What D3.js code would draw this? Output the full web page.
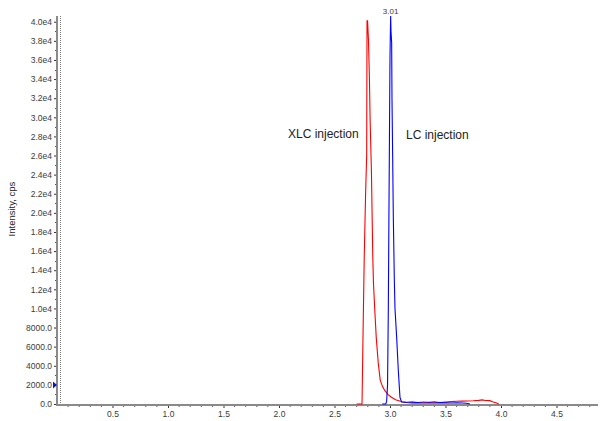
<!DOCTYPE html>
<html>
<head>
<meta charset="utf-8">
<script src="https://cdn.jsdelivr.net/npm/d3@7"></script>
<style>
  html, body { margin: 0; padding: 0; background: #fff; }
  svg { display: block; font-family: "Liberation Sans", Arial, sans-serif; }
</style>
</head>
<body>
<svg id="chart" width="600" height="421"></svg>
<script>
// ---- data ----
const xTickValues = [0.5, 1.0, 1.5, 2.0, 2.5, 3.0, 3.5, 4.0, 4.5];
const xTickLabels = ["0.5", "1.0", "1.5", "2.0", "2.5", "3.0", "3.5", "4.0", "4.5"];
const yTickValues = [0, 2000, 4000, 6000, 8000, 10000, 12000, 14000, 16000, 18000, 20000,
  22000, 24000, 26000, 28000, 30000, 32000, 34000, 36000, 38000, 40000];
const yTickLabels = ["0.0", "2000.0", "4000.0", "6000.0", "8000.0", "1.0e4", "1.2e4", "1.4e4",
  "1.6e4", "1.8e4", "2.0e4", "2.2e4", "2.4e4", "2.6e4", "2.8e4", "3.0e4", "3.2e4", "3.4e4",
  "3.6e4", "3.8e4", "4.0e4"];

// XLC injection (red)
const redTime = [2.70, 2.748, 2.754, 2.768, 2.781, 2.790, 2.793, 2.798, 2.806, 2.815, 2.821,
  2.833, 2.840, 2.845, 2.851, 2.863, 2.876, 2.894, 2.912, 2.93, 2.95, 2.98, 3.01, 3.05, 3.11,
  3.15, 3.20, 3.25, 3.30, 3.35, 3.40, 3.45, 3.50, 3.55, 3.60, 3.65, 3.70, 3.75, 3.80, 3.83,
  3.86, 3.90, 3.93, 3.96, 3.98];
const redIntensity = [0, 0, 4900, 15400, 22400, 26000, 40100, 40100, 38100, 33900, 29700,
  24200, 19000, 15400, 12700, 9800, 7000, 4300, 2500, 1900, 1470, 1000, 730, 450, 240,
  180, 230, 150, 210, 170, 220, 160, 200, 250, 280, 300, 320, 340, 380, 430,
  360, 350, 220, 100, 0];

// LC injection (blue)
const blueTime = [2.93, 2.962, 2.970, 2.978, 2.985, 2.990, 2.995, 3.000, 3.006, 3.009, 3.015,
  3.018, 3.024, 3.030, 3.039, 3.045, 3.060, 3.075, 3.090, 3.105, 3.15, 3.20, 3.25, 3.30, 3.35,
  3.40, 3.45, 3.50, 3.55, 3.60, 3.65, 3.69, 3.72];
const blueIntensity = [0, 0, 300, 2000, 10000, 19000, 27600, 36300, 40600, 39000, 37800,
  32000, 26000, 19600, 13000, 10000, 7000, 3500, 700, 200, 150, 120, 140, 110, 130,
  100, 140, 120, 110, 130, 100, 80, 0];

const peakLabel = "3.01";
const peakTime = 3.006;
const peakValue = 40600;
const thresholdValue = 2000;

// ---- layout ----
const svg = d3.select("#chart");
const x = d3.scaleLinear().domain([0, 4.874]).range([57, 598]);
const y = d3.scaleLinear().domain([0, 40600]).range([404, 16]);

const axisColor = "#8a8a8a";
const textColor = "#3a3a3a";

// y axis dotted inner line
svg.append("line")
  .attr("x1", 60.5).attr("x2", 60.5)
  .attr("y1", y(40600)).attr("y2", 404)
  .attr("stroke", "#777").attr("stroke-width", 1)
  .attr("stroke-dasharray", "1,1");

// y axis
const yAxis = d3.axisLeft(y)
  .tickValues(yTickValues)
  .tickFormat((d, i) => yTickLabels[i])
  .tickSize(3).tickPadding(2);
const gy = svg.append("g").attr("transform", "translate(57,0)").call(yAxis);
gy.select(".domain").remove();
gy.selectAll(".tick line").attr("stroke", "#333");
gy.selectAll(".tick text").attr("fill", textColor).attr("font-size", 8.5)
  .attr("font-family", "Liberation Sans, Arial, sans-serif");
// y minor ticks
svg.append("g").selectAll("line")
  .data(d3.range(1000, 40600, 2000))
  .join("line")
  .attr("x1", 55).attr("x2", 57)
  .attr("y1", d => Math.round(y(d)) + 0.5).attr("y2", d => Math.round(y(d)) + 0.5)
  .attr("stroke", "#555");

svg.append("line")
  .attr("x1", 57).attr("x2", 57)
  .attr("y1", 16).attr("y2", 406)
  .attr("stroke", axisColor).attr("stroke-width", 2);

// x axis
const xAxis = d3.axisBottom(x)
  .tickValues(xTickValues)
  .tickFormat((d, i) => xTickLabels[i])
  .tickSize(3).tickPadding(3);
const gx = svg.append("g").attr("transform", "translate(0,405)").call(xAxis);
gx.select(".domain").remove();
gx.selectAll(".tick line").attr("stroke", "#333");
gx.selectAll(".tick text").attr("fill", textColor).attr("font-size", 8.5)
  .attr("font-family", "Liberation Sans, Arial, sans-serif");
// x minor ticks
svg.append("g").selectAll("line")
  .data(d3.range(0.1, 4.87, 0.1).filter(v => Math.abs(v * 2 - Math.round(v * 2)) > 0.01))
  .join("line")
  .attr("x1", d => x(d)).attr("x2", d => x(d))
  .attr("y1", 405).attr("y2", 407)
  .attr("stroke", "#555");

svg.append("line")
  .attr("x1", 56).attr("x2", 598)
  .attr("y1", 405).attr("y2", 405)
  .attr("stroke", axisColor).attr("stroke-width", 2);

// threshold marker
svg.append("path")
  .attr("d", `M53,${y(thresholdValue) - 3.5} L57,${y(thresholdValue)} L53,${y(thresholdValue) + 3.5} Z`)
  .attr("fill", "#1010d0");

// traces
const line = d3.line().x(d => x(d[0])).y(d => y(d[1]));
svg.append("path")
  .datum(redTime.map((t, i) => [t, redIntensity[i]]))
  .attr("d", line)
  .attr("fill", "none").attr("stroke", "#ff0000").attr("stroke-width", 1.1);
svg.append("path")
  .datum(blueTime.map((t, i) => [t, blueIntensity[i]]))
  .attr("d", line)
  .attr("fill", "none").attr("stroke", "#0000ff").attr("stroke-width", 1.1);

// peak label
svg.append("text")
  .attr("x", x(peakTime)).attr("y", y(peakValue) - 2)
  .attr("text-anchor", "middle")
  .attr("font-size", 8).attr("fill", textColor)
  .text(peakLabel);

// annotations
svg.append("text")
  .attr("x", 288).attr("y", 138)
  .attr("font-size", 12).attr("fill", "#222")
  .text("XLC injection");
svg.append("text")
  .attr("x", 406).attr("y", 139)
  .attr("font-size", 12).attr("fill", "#222")
  .text("LC injection");

// y axis title
svg.append("text")
  .attr("transform", "translate(15,209) rotate(-90)")
  .attr("text-anchor", "middle")
  .attr("font-size", 9.5).attr("fill", "#222")
  .text("Intensity, cps");
</script>
</body>
</html>
